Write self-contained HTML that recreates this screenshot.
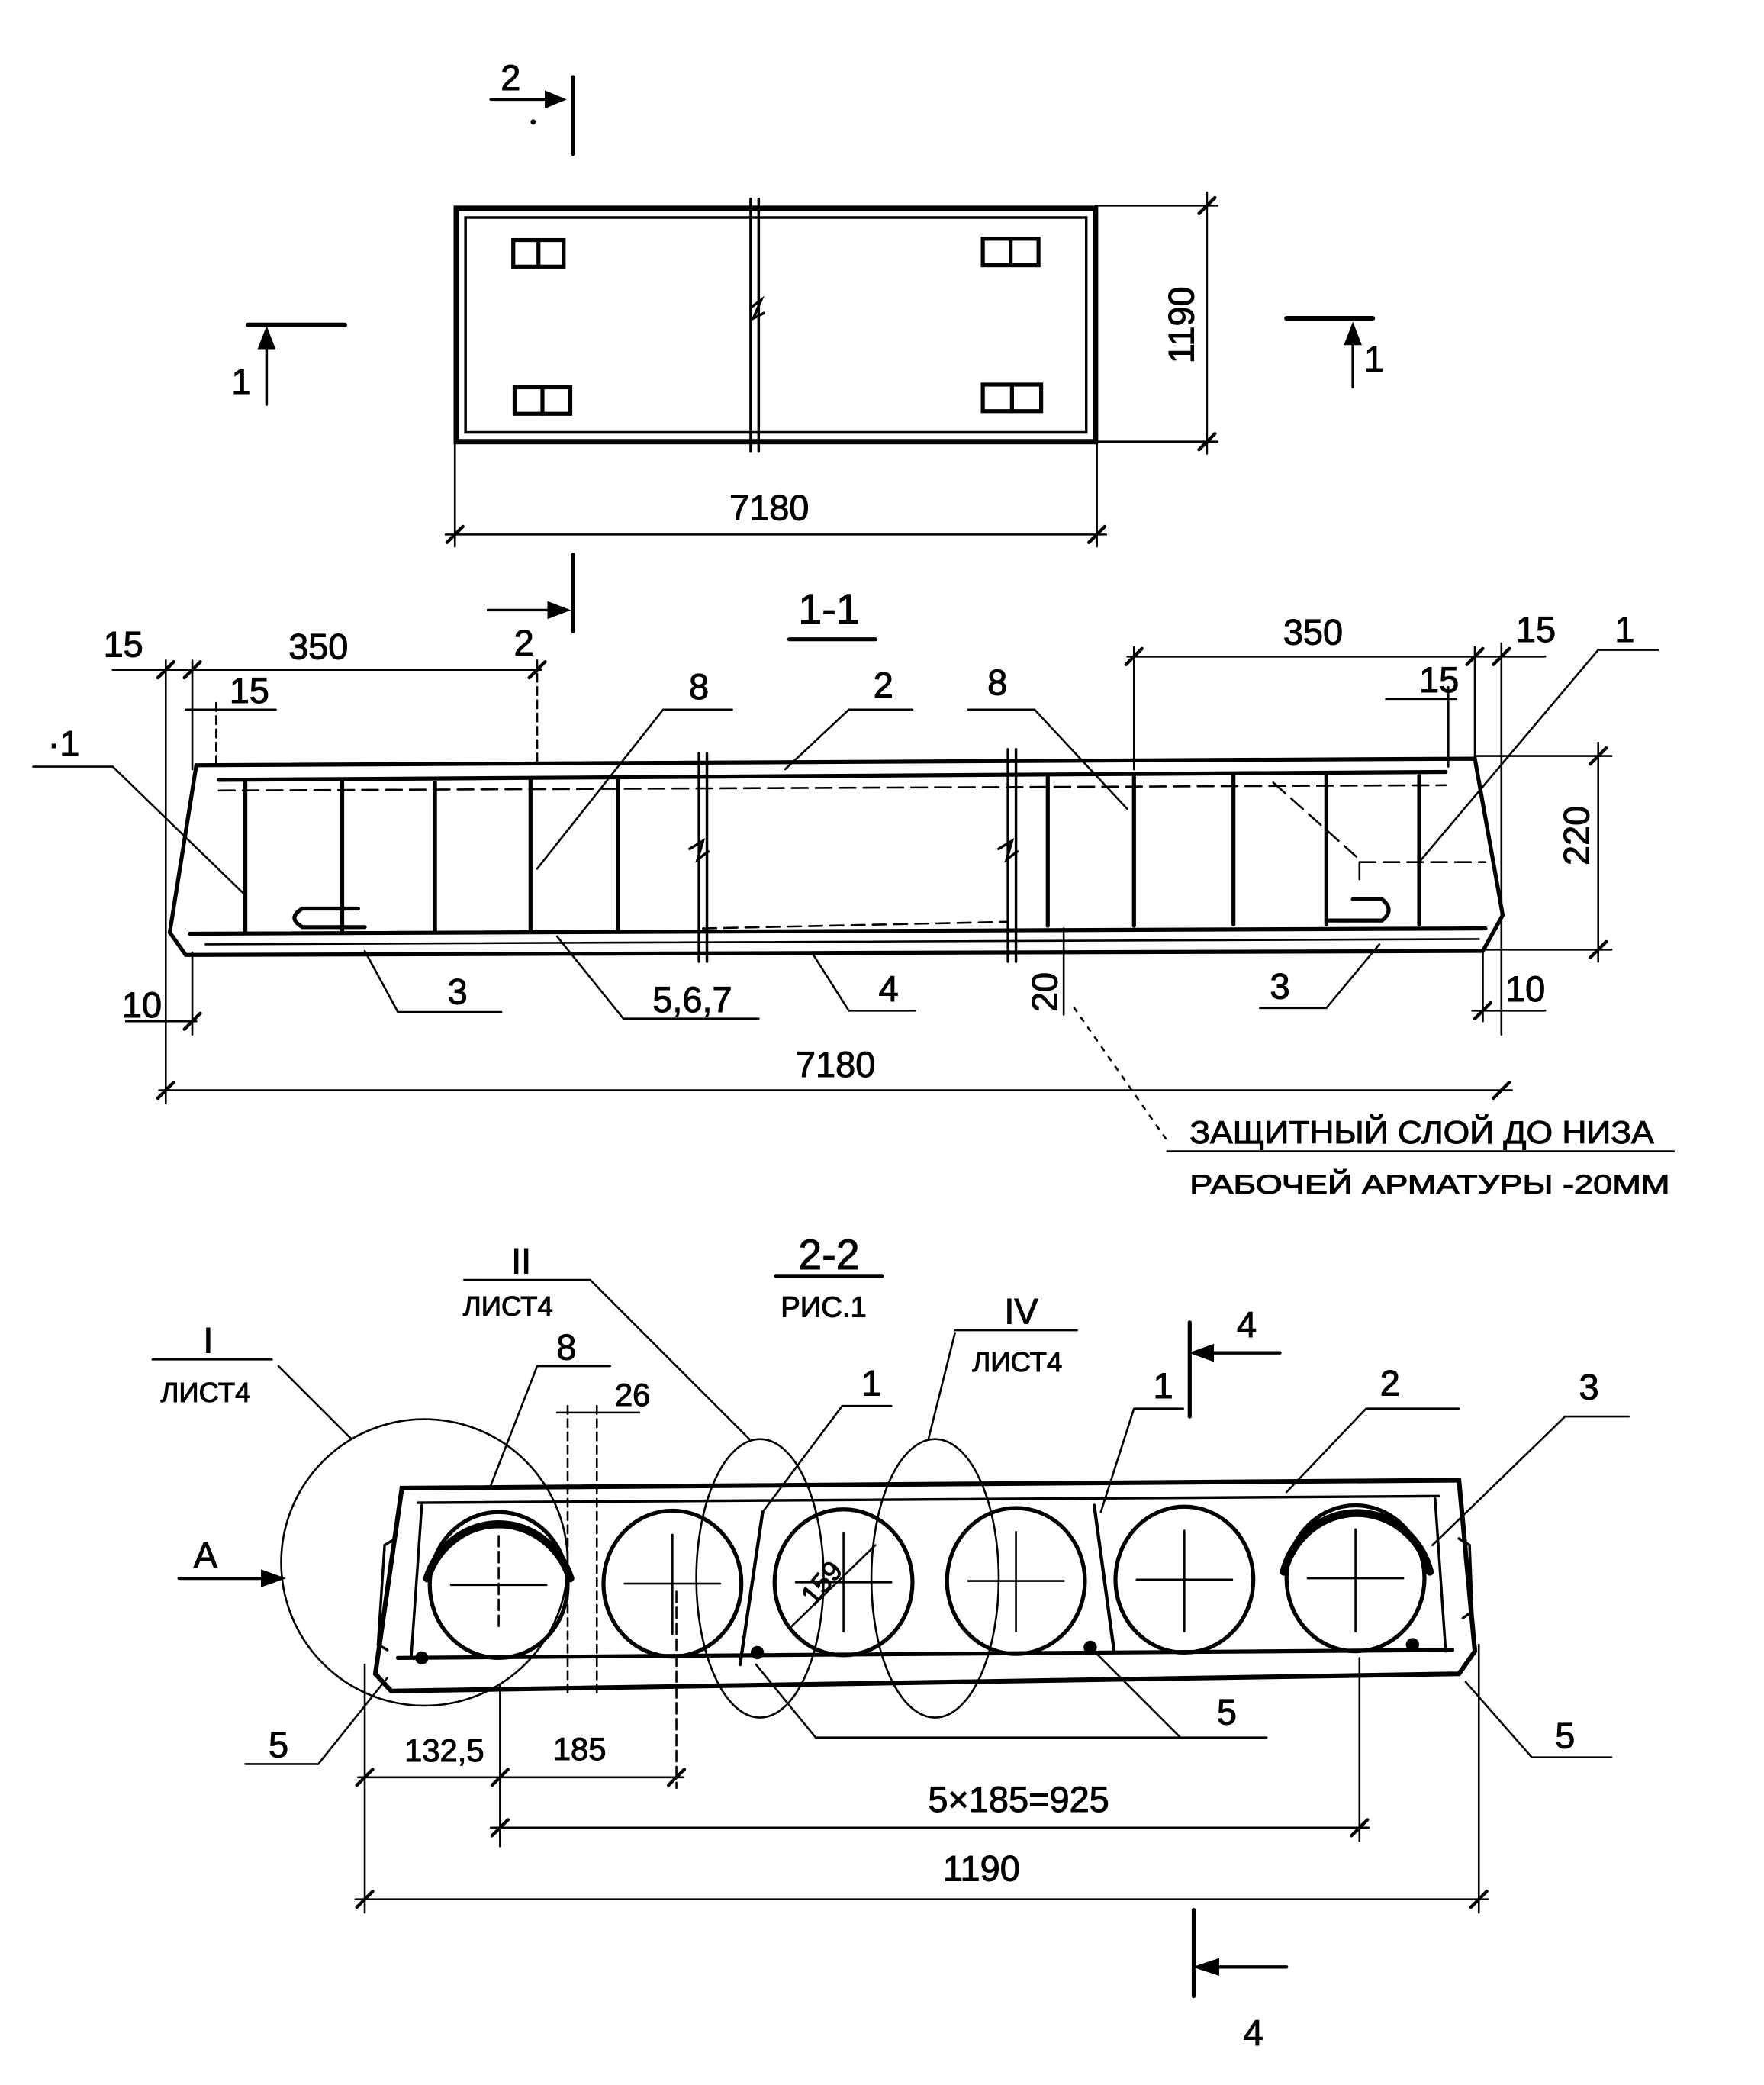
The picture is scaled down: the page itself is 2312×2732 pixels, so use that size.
<!DOCTYPE html>
<html><head><meta charset="utf-8"><style>
html,body{margin:0;padding:0;background:#fff;}
svg{display:block;}
text{font-family:"Liberation Sans",sans-serif;fill:#000;stroke:#000;stroke-width:0.6;}
</style></head><body>
<svg width="2312" height="2732" viewBox="0 0 1330 1572" preserveAspectRatio="none" xmlns="http://www.w3.org/2000/svg">
<g stroke="#000" fill="none" stroke-width="2.5" stroke-linecap="round">
<rect x="344" y="157" width="482" height="176" stroke-width="4"/>
<rect x="351" y="164" width="468" height="162" stroke-width="2"/>
<line x1="566" y1="150" x2="566" y2="340" stroke-width="2"/>
<line x1="572" y1="150" x2="572" y2="340" stroke-width="2"/>
<path d="M566 232 l8 -6 -6 14 8 -4" stroke-width="2"/>
<g stroke-width="3">
<rect x="387" y="181" width="38" height="20"/><line x1="406" y1="181" x2="406" y2="201"/>
<rect x="741" y="180" width="42" height="20"/><line x1="762" y1="180" x2="762" y2="200"/>
<rect x="388" y="292" width="42" height="20"/><line x1="409" y1="292" x2="409" y2="312"/>
<rect x="741" y="290" width="44" height="20"/><line x1="763" y1="290" x2="763" y2="310"/>
</g>
<line x1="826" y1="155" x2="918" y2="155" stroke-width="1.5"/>
<line x1="826" y1="333" x2="918" y2="333" stroke-width="1.5"/>
<line x1="910" y1="145" x2="910" y2="342" stroke-width="1.5"/>
<line x1="904" y1="161" x2="916" y2="149"/><line x1="904" y1="339" x2="916" y2="327"/>
<line x1="343" y1="333" x2="343" y2="412" stroke-width="1.5"/>
<line x1="827" y1="333" x2="827" y2="412" stroke-width="1.5"/>
<line x1="336" y1="403" x2="834" y2="403" stroke-width="1.5"/>
<line x1="337" y1="409" x2="349" y2="397"/><line x1="821" y1="409" x2="833" y2="397"/>
<line x1="432" y1="58" x2="432" y2="116" stroke-width="3"/>
<line x1="370" y1="75" x2="418" y2="75" stroke-width="2"/><path d="M412 70 L424 75 L412 80Z" fill="#000"/>
<line x1="432" y1="418" x2="432" y2="476" stroke-width="3"/>
<line x1="368" y1="460" x2="420" y2="460" stroke-width="2"/><path d="M414 455 L427 460 L414 465Z" fill="#000"/>
<line x1="187" y1="245" x2="260" y2="245" stroke-width="3.5"/>
<line x1="201" y1="305" x2="201" y2="258" stroke-width="2"/><path d="M196 262 L201 249 L206 262Z" fill="#000"/>
<line x1="970" y1="240" x2="1035" y2="240" stroke-width="3.5"/>
<line x1="1020" y1="292" x2="1020" y2="255" stroke-width="2"/><path d="M1015 259 L1020 246 L1025 259Z" fill="#000"/>
<line x1="595" y1="482" x2="660" y2="482" stroke-width="3"/>
<path d="M148 577 L1112 572 L1133 690 L1118 717 L140 720 L128 703 Z" stroke-width="3"/>
<line x1="165" y1="588" x2="1090" y2="582" stroke-width="3"/>
<line x1="165" y1="596" x2="1090" y2="592" stroke-width="1.5" stroke-dasharray="12 6"/>
<line x1="143" y1="704" x2="1120" y2="700" stroke-width="3"/>
<line x1="155" y1="712" x2="1115" y2="708" stroke-width="1.5"/>
<line x1="530" y1="700" x2="760" y2="695" stroke-width="1.5" stroke-dasharray="10 6"/>
<g stroke-width="3">
<line x1="185" y1="590" x2="185" y2="703"/><line x1="258" y1="590" x2="258" y2="703"/>
<line x1="328" y1="590" x2="328" y2="703"/><line x1="400" y1="588" x2="400" y2="702"/>
<line x1="466" y1="588" x2="466" y2="702"/>
<line x1="790" y1="585" x2="790" y2="698"/><line x1="855" y1="585" x2="855" y2="698"/>
<line x1="930" y1="585" x2="930" y2="697"/><line x1="1000" y1="585" x2="1000" y2="697"/>
<line x1="1070" y1="585" x2="1070" y2="697"/>
<path d="M270 685 L228 685 Q216 692 228 699 L275 699"/>
<path d="M1020 678 L1042 678 Q1052 686 1042 694 L1000 694"/>
</g>
<path d="M960 590 L1025 648 L1025 665 M1025 650 L1120 650" stroke-width="1.5" stroke-dasharray="12 6"/>
<g stroke-width="2">
<line x1="527" y1="568" x2="527" y2="725"/><line x1="533" y1="568" x2="533" y2="725"/>
<line x1="760" y1="565" x2="760" y2="725"/><line x1="766" y1="565" x2="766" y2="725"/>
</g>
<path d="M520 640 l10 -6 -4 14 8 -6" stroke-width="2"/>
<path d="M753 640 l10 -6 -4 14 8 -6" stroke-width="2"/>
<g stroke-width="1.5">
<line x1="125" y1="498" x2="125" y2="832"/><line x1="145" y1="498" x2="145" y2="580"/>
<line x1="85" y1="505" x2="408" y2="505"/><line x1="405" y1="498" x2="405" y2="578" stroke-dasharray="6 4"/>
<line x1="140" y1="535" x2="208" y2="535"/><line x1="163" y1="530" x2="163" y2="580" stroke-dasharray="6 4"/>
<line x1="855" y1="488" x2="855" y2="580"/><line x1="1112" y1="488" x2="1112" y2="575"/>
<line x1="1132" y1="485" x2="1132" y2="780"/>
<line x1="850" y1="495" x2="1165" y2="495"/>
<line x1="1045" y1="527" x2="1098" y2="527"/><line x1="1092" y1="518" x2="1092" y2="578"/>
<line x1="1112" y1="570" x2="1215" y2="570"/><line x1="1120" y1="716" x2="1215" y2="716"/>
<line x1="1205" y1="560" x2="1205" y2="725"/>
<line x1="95" y1="770" x2="148" y2="770"/><line x1="145" y1="718" x2="145" y2="780"/>
<line x1="1110" y1="762" x2="1165" y2="762"/><line x1="1118" y1="718" x2="1118" y2="770"/>
<line x1="120" y1="822" x2="1140" y2="822"/>
<line x1="802" y1="700" x2="802" y2="765"/>
<line x1="300" y1="763" x2="378" y2="763"/><line x1="300" y1="763" x2="275" y2="717"/>
<line x1="470" y1="768" x2="572" y2="768"/><line x1="470" y1="768" x2="420" y2="706"/>
<line x1="640" y1="762" x2="690" y2="762"/><line x1="640" y1="762" x2="612" y2="718"/>
<line x1="950" y1="760" x2="1000" y2="760"/><line x1="1000" y1="760" x2="1040" y2="712"/>
<line x1="500" y1="535" x2="552" y2="535"/><line x1="500" y1="535" x2="405" y2="655"/>
<line x1="640" y1="535" x2="688" y2="535"/><line x1="640" y1="535" x2="592" y2="580"/>
<line x1="730" y1="535" x2="780" y2="535"/><line x1="780" y1="535" x2="850" y2="610"/>
<line x1="25" y1="578" x2="85" y2="578"/><line x1="85" y1="578" x2="185" y2="675"/>
<line x1="1205" y1="490" x2="1250" y2="490"/><line x1="1205" y1="490" x2="1070" y2="650"/>
<line x1="880" y1="868" x2="1262" y2="868"/>
<line x1="810" y1="760" x2="880" y2="860" stroke-dasharray="3 6"/>
</g>
<g stroke-width="2.5">
<line x1="119" y1="511" x2="131" y2="499"/><line x1="139" y1="511" x2="151" y2="499"/><line x1="399" y1="511" x2="411" y2="499"/>
<line x1="849" y1="501" x2="861" y2="489"/><line x1="1106" y1="501" x2="1118" y2="489"/><line x1="1126" y1="501" x2="1138" y2="489"/>
<line x1="1199" y1="576" x2="1211" y2="564"/><line x1="1199" y1="722" x2="1211" y2="710"/>
<line x1="119" y1="828" x2="131" y2="816"/><line x1="1126" y1="828" x2="1138" y2="816"/>
<line x1="139" y1="776" x2="151" y2="764"/><line x1="1112" y1="768" x2="1124" y2="756"/>
</g>
<line x1="585" y1="962" x2="665" y2="962" stroke-width="3"/>
<path d="M303 1122 L1100 1116 L1112 1245 L1100 1262 L295 1275 L283 1262 Z" stroke-width="3.5"/>
<line x1="315" y1="1133" x2="1085" y2="1128" stroke-width="2"/>
<line x1="300" y1="1250" x2="1095" y2="1244" stroke-width="3"/>
<line x1="318" y1="1135" x2="310" y2="1250" stroke-width="2"/>
<line x1="1082" y1="1130" x2="1090" y2="1245" stroke-width="2"/>
<path d="M298 1160 L290 1165 L285 1240 L292 1244" stroke-width="2"/>
<path d="M1100 1160 L1108 1165 L1110 1215 L1103 1220" stroke-width="2"/>
<line x1="575" y1="1140" x2="558" y2="1255" stroke-width="2.5"/>
<line x1="825" y1="1135" x2="840" y2="1245" stroke-width="2.5"/>
<g stroke-width="3">
<ellipse cx="376" cy="1195" rx="52" ry="55"/><ellipse cx="507" cy="1194" rx="52" ry="55"/>
<ellipse cx="636" cy="1193" rx="52" ry="55"/><ellipse cx="766" cy="1192" rx="52" ry="55"/>
<ellipse cx="893" cy="1191" rx="52" ry="55"/><ellipse cx="1022" cy="1190" rx="52" ry="55"/>
</g>
<path d="M322 1190 A57 60 0 0 1 430 1190" stroke-width="6"/>
<path d="M968 1185 A57 60 0 0 1 1078 1185" stroke-width="6"/>
<g stroke-width="1.5">
<line x1="340" y1="1195" x2="412" y2="1195"/><line x1="376" y1="1158" x2="376" y2="1230" stroke-dasharray="8 4"/>
<line x1="471" y1="1194" x2="543" y2="1194"/><line x1="507" y1="1157" x2="507" y2="1232"/>
<line x1="600" y1="1193" x2="672" y2="1193"/><line x1="636" y1="1156" x2="636" y2="1230"/>
<line x1="730" y1="1192" x2="802" y2="1192"/><line x1="766" y1="1155" x2="766" y2="1230"/>
<line x1="857" y1="1191" x2="929" y2="1191"/><line x1="893" y1="1154" x2="893" y2="1230"/>
<line x1="986" y1="1190" x2="1058" y2="1190"/><line x1="1022" y1="1153" x2="1022" y2="1230"/>
<line x1="595" y1="1228" x2="660" y2="1165"/>
<circle cx="320" cy="1178" r="108"/>
<ellipse cx="573" cy="1190" rx="48" ry="105"/>
<ellipse cx="705" cy="1190" rx="48" ry="105"/>
<line x1="115" y1="1025" x2="205" y2="1025"/><line x1="210" y1="1030" x2="265" y2="1085"/>
<line x1="350" y1="965" x2="445" y2="965"/><line x1="445" y1="965" x2="565" y2="1085"/>
<line x1="720" y1="1003" x2="812" y2="1003"/><line x1="720" y1="1005" x2="700" y2="1085"/>
<line x1="405" y1="1030" x2="460" y2="1030"/><line x1="405" y1="1030" x2="370" y2="1120"/>
<line x1="420" y1="1065" x2="482" y2="1065"/>
<line x1="428" y1="1060" x2="428" y2="1280" stroke-dasharray="6 4"/><line x1="450" y1="1060" x2="450" y2="1280" stroke-dasharray="6 4"/>
<line x1="635" y1="1060" x2="672" y2="1060"/><line x1="635" y1="1060" x2="575" y2="1140"/>
<line x1="855" y1="1062" x2="892" y2="1062"/><line x1="855" y1="1062" x2="830" y2="1140"/>
<line x1="1030" y1="1062" x2="1100" y2="1062"/><line x1="1030" y1="1062" x2="970" y2="1125"/>
<line x1="1180" y1="1068" x2="1228" y2="1068"/><line x1="1180" y1="1068" x2="1080" y2="1165"/>
<line x1="185" y1="1330" x2="240" y2="1330"/><line x1="240" y1="1330" x2="292" y2="1265"/>
<line x1="615" y1="1310" x2="955" y2="1310"/><line x1="890" y1="1310" x2="822" y2="1242"/><line x1="615" y1="1310" x2="570" y2="1255"/>
<line x1="1155" y1="1325" x2="1215" y2="1325"/><line x1="1155" y1="1325" x2="1105" y2="1268"/>
<line x1="275" y1="1255" x2="275" y2="1442"/><line x1="377" y1="1270" x2="377" y2="1392"/>
<line x1="510" y1="1200" x2="510" y2="1348" stroke-dasharray="8 4"/><line x1="1025" y1="1250" x2="1025" y2="1388"/>
<line x1="1115" y1="1240" x2="1115" y2="1442"/>
<line x1="270" y1="1340" x2="515" y2="1340"/>
<line x1="370" y1="1378" x2="1032" y2="1378"/>
<line x1="268" y1="1432" x2="1122" y2="1432"/>
</g>
<g stroke-width="2.5">
<line x1="269" y1="1346" x2="281" y2="1334"/><line x1="371" y1="1346" x2="383" y2="1334"/><line x1="504" y1="1346" x2="516" y2="1334"/>
<line x1="371" y1="1384" x2="383" y2="1372"/><line x1="1019" y1="1384" x2="1031" y2="1372"/>
<line x1="269" y1="1438" x2="281" y2="1426"/><line x1="1109" y1="1438" x2="1121" y2="1426"/>
<line x1="897" y1="997" x2="897" y2="1068" stroke-width="3"/>
<line x1="900" y1="1440" x2="900" y2="1505" stroke-width="3"/>
</g>
<line x1="135" y1="1190" x2="200" y2="1190" stroke-width="2.5"/><path d="M198 1185 L212 1190 L198 1195Z" fill="#000"/>
<line x1="965" y1="1020" x2="912" y2="1020" stroke-width="2.5"/><path d="M914 1015 L900 1020 L914 1025Z" fill="#000"/>
<line x1="970" y1="1483" x2="916" y2="1483" stroke-width="2.5"/><path d="M918 1478 L903 1483 L918 1488Z" fill="#000"/>
</g>
<g fill="#000">
<circle cx="318" cy="1250" r="5"/><circle cx="571" cy="1246" r="5"/><circle cx="822" cy="1242" r="5"/><circle cx="1065" cy="1240" r="5"/>
<circle cx="402" cy="92" r="2"/>
</g>
<g font-size="27" text-anchor="middle">
<text x="385" y="68">2</text>
<text x="182" y="297">1</text>
<text x="1036" y="280">1</text>
<text x="580" y="392">7180</text>
<text x="0" y="0" transform="translate(900 245) rotate(-90)">1190</text>
<text x="625" y="470" font-size="32">1-1</text>
<text x="93" y="495">15</text>
<text x="240" y="497">350</text>
<text x="395" y="494">2</text>
<text x="188" y="530">15</text>
<text x="48" y="570">·1</text>
<text x="527" y="527">8</text>
<text x="666" y="526">2</text>
<text x="752" y="524">8</text>
<text x="990" y="486">350</text>
<text x="1158" y="484">15</text>
<text x="1085" y="522">15</text>
<text x="1225" y="484">1</text>
<text x="0" y="0" transform="translate(1198 630) rotate(-90)">220</text>
<text x="107" y="767">10</text>
<text x="1150" y="755">10</text>
<text x="0" y="0" transform="translate(797 748) rotate(-90)">20</text>
<text x="345" y="757">3</text>
<text x="522" y="763">5,6,7</text>
<text x="670" y="755">4</text>
<text x="965" y="753">3</text>
<text x="630" y="812">7180</text>
<text x="1072" y="862" font-size="24" textLength="350" lengthAdjust="spacingAndGlyphs">ЗАЩИТНЫЙ СЛОЙ ДО НИЗА</text>
<text x="1078" y="900" font-size="20" textLength="362" lengthAdjust="spacingAndGlyphs">РАБОЧЕЙ АРМАТУРЫ -20ММ</text>
<text x="625" y="957" font-size="32">2-2</text>
<text x="621" y="993" font-size="22">РИС.1</text>
<text x="393" y="960">II</text>
<text x="383" y="992" font-size="21">ЛИСТ4</text>
<text x="157" y="1020">I</text>
<text x="155" y="1057" font-size="21">ЛИСТ4</text>
<text x="770" y="998">IV</text>
<text x="767" y="1034" font-size="21">ЛИСТ4</text>
<text x="427" y="1025">8</text>
<text x="477" y="1060" font-size="24">26</text>
<text x="657" y="1052">1</text>
<text x="877" y="1054">1</text>
<text x="1048" y="1052">2</text>
<text x="1198" y="1055">3</text>
<text x="940" y="1008">4</text>
<text x="945" y="1542">4</text>
<text x="155" y="1182">A</text>
<text x="0" y="0" font-size="21" transform="translate(625 1198) rotate(-50)">159</text>
<text x="210" y="1325">5</text>
<text x="925" y="1300">5</text>
<text x="1180" y="1318">5</text>
<text x="335" y="1328" font-size="24">132,5</text>
<text x="437" y="1327" font-size="24">185</text>
<text x="768" y="1366">5×185=925</text>
<text x="740" y="1418">1190</text>
</g>
</svg>
</body></html>
